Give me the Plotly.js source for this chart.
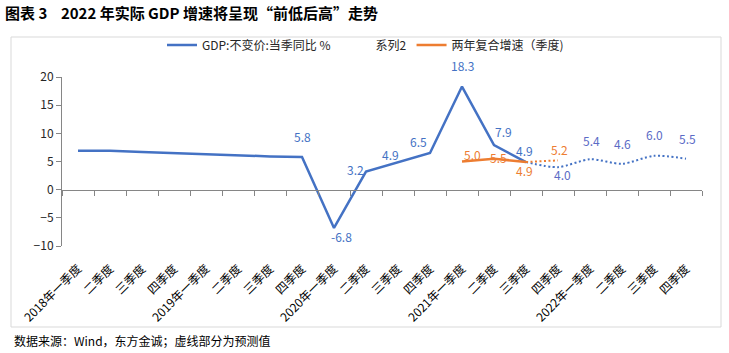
<!DOCTYPE html>
<html>
<head>
<meta charset="utf-8">
<script src="https://cdn.plot.ly/plotly-3.0.1.min.js"></script>
<style>
html,body{margin:0;padding:0;background:#fff;}
#chart{width:729px;height:353px;}
</style>
</head>
<body>
<div id="chart"></div>
<script>
// ---- data ----
const tickLabels = [
  '2018年一季度','二季度','三季度','四季度',
  '2019年一季度','二季度','三季度','四季度',
  '2020年一季度','二季度','三季度','四季度',
  '2021年一季度','二季度','三季度','四季度',
  '2022年一季度','二季度','三季度','四季度'
];
const gdpActual = [6.9, 6.9, 6.7, 6.5, 6.3, 6.0, 5.9, 5.8, -6.8, 3.2, 4.9, 6.5, 18.3, 7.9, 4.9, null, null, null, null, null];
const gdpForecast = [null, null, null, null, null, null, null, null, null, null, null, null, null, null, 4.9, 4.0, 5.4, 4.6, 6.0, 5.5];
const twoYear = [null, null, null, null, null, null, null, null, null, null, null, null, 5.0, 5.5, 4.9, null, null, null, null, null];
const twoYearForecast = [null, null, null, null, null, null, null, null, null, null, null, null, null, null, 4.9, 5.2, null, null, null, null];
const series2 = [null, null, null, null, null, null, null, null, null, null, null, null, null, null, null, null, null, null, null, null];

const seriesNames = ['GDP:不变价:当季同比 %', '系列2', '两年复合增速（季度)'];
const chartTitle = '图表 3\u00a0\u00a0\u00a0\u00a02022 年实际 GDP 增速将呈现“前低后高”走势';
const sourceNote = '数据来源：Wind，东方金诚；虚线部分为预测值';

// which points carry a data label
const gdpLabelIdx = [7, 8, 9, 10, 11, 12, 13, 14];
const gdpForecastLabelIdx = [15, 16, 17, 18, 19];
const twoYearLabelIdx = [12, 13, 14];
const twoYearForecastLabelIdx = [15];

// label offsets (px) - style only
const gdpLabelShift = {7:[0,20], 8:[7,-9], 9:[-11,2], 10:[-8,8], 11:[-12,12], 12:[0,21], 13:[9,14], 14:[-2,12]};
const gdpForecastLabelShift = {15:[4,-7], 16:[1,19], 17:[0,20], 18:[0,21], 19:[1,20]};
const twoYearLabelShift = {12:[10,7], 13:[4,1], 14:[-2,-8]};
const twoYearForecastLabelShift = {15:[1,11]};

const xIdx = tickLabels.map((_, i) => i);
const boundaries = [-0.5].concat(xIdx.map(i => i + 0.5));

const BLUE = '#4472C4', ORANGE = '#ED7D31', BLUE2 = '#5B6BC6';
const FONT = '"Noto Sans CJK SC", "Microsoft YaHei", sans-serif';

const traces = [
  {x: xIdx, y: gdpActual, name: seriesNames[0], mode: 'lines', line: {color: BLUE, width: 2.5}, hoverinfo: 'skip'},
  {x: xIdx, y: series2, name: seriesNames[1], mode: 'lines', xaxis: 'x2', line: {color: 'rgba(0,0,0,0)', width: 2.5}, hoverinfo: 'skip'},
  {x: xIdx, y: twoYear, name: seriesNames[2], mode: 'lines', line: {color: ORANGE, width: 2.5}, hoverinfo: 'skip'},
  {x: xIdx, y: gdpForecast, name: 'f1', showlegend: false, mode: 'lines', connectgaps: false,
   line: {color: BLUE, width: 2, dash: '2px,2.5px', shape: 'spline', smoothing: 0.8}, hoverinfo: 'skip'},
  {x: xIdx, y: twoYearForecast, name: 'f2', showlegend: false, mode: 'lines',
   line: {color: ORANGE, width: 2, dash: '2px,2.5px'}, hoverinfo: 'skip'}
];

function makeLabels(idxs, vals, shifts, color) {
  return idxs.map(i => ({
    x: xIdx[i], y: vals[i], xref: 'x', yref: 'y',
    text: vals[i].toFixed(1), showarrow: false,
    xshift: shifts[i][0], yshift: shifts[i][1],
    font: {family: FONT, size: 12, color: color}
  }));
}

const annotations = []
  .concat(makeLabels(gdpLabelIdx, gdpActual, gdpLabelShift, BLUE))
  .concat(makeLabels(gdpForecastLabelIdx, gdpForecast, gdpForecastLabelShift, BLUE2))
  .concat(makeLabels(twoYearLabelIdx, twoYear, twoYearLabelShift, ORANGE))
  .concat(makeLabels(twoYearForecastLabelIdx, twoYearForecast, twoYearForecastLabelShift, ORANGE));

annotations.push({
  xref: 'paper', yref: 'paper', x: (12 - 62) / 640, y: (246 - 340) / 169,
  xanchor: 'left', yanchor: 'middle', showarrow: false,
  text: sourceNote,
  font: {family: FONT, size: 12, color: '#000'}
});
annotations.push({
  xref: 'paper', yref: 'paper', x: (3 - 62) / 640, y: (246 - 12) / 169,
  xanchor: 'left', yanchor: 'middle', showarrow: false,
  text: '<b>' + chartTitle + '</b>',
  font: {family: FONT, size: 15, color: '#000'}
});

const layout = {
  width: 729, height: 353,
  margin: {l: 62, r: 27, t: 77, b: 107, pad: 0},
  paper_bgcolor: '#fff', plot_bgcolor: '#fff',
  font: {family: FONT, size: 12, color: '#262626'},
  showlegend: true,
  legend: {
    orientation: 'h', x: (162 - 62) / 640, xanchor: 'left',
    y: (246 - 45) / 169, yanchor: 'middle',
    font: {family: FONT, size: 12, color: '#262626'},
    bgcolor: 'rgba(0,0,0,0)', itemclick: false
  },
  xaxis: {
    type: 'linear', range: [-0.5, 19.5],
    tickmode: 'array', tickvals: xIdx, ticktext: tickLabels, tickangle: -45,
    showline: false, showgrid: false, zeroline: false,
    ticks: 'outside', ticklen: 10, tickcolor: 'rgba(0,0,0,0)',
    tickfont: {family: FONT, size: 12, color: '#000'}
  },
  xaxis2: {
    type: 'linear', range: [-0.5, 19.5], overlaying: 'x', anchor: 'free', position: 1 / 3,
    side: 'bottom',
    tickmode: 'array', tickvals: boundaries, showticklabels: false,
    ticks: 'outside', ticklen: 5, tickcolor: '#868686', tickwidth: 1,
    showline: true, linecolor: '#868686', linewidth: 1,
    showgrid: false, zeroline: false
  },
  yaxis: {
    range: [-10, 20], dtick: 5, tick0: 0,
    showline: true, linecolor: '#868686', linewidth: 1,
    ticks: 'outside', ticklen: 5, tickcolor: '#868686',
    showgrid: false, zeroline: false,
    tickfont: {family: FONT, size: 12, color: '#262626'}
  },
  shapes: [{
    type: 'rect', xref: 'paper', yref: 'paper',
    x0: (11 - 62) / 640, x1: (721 - 62) / 640,
    y0: (246 - 327) / 169, y1: (246 - 37) / 169,
    line: {color: '#D9D9D9', width: 1}, fillcolor: 'rgba(0,0,0,0)', layer: 'below'
  }],
  annotations: annotations
};

Plotly.newPlot('chart', traces, layout, {displayModeBar: false, staticPlot: true});
</script>
</body>
</html>
